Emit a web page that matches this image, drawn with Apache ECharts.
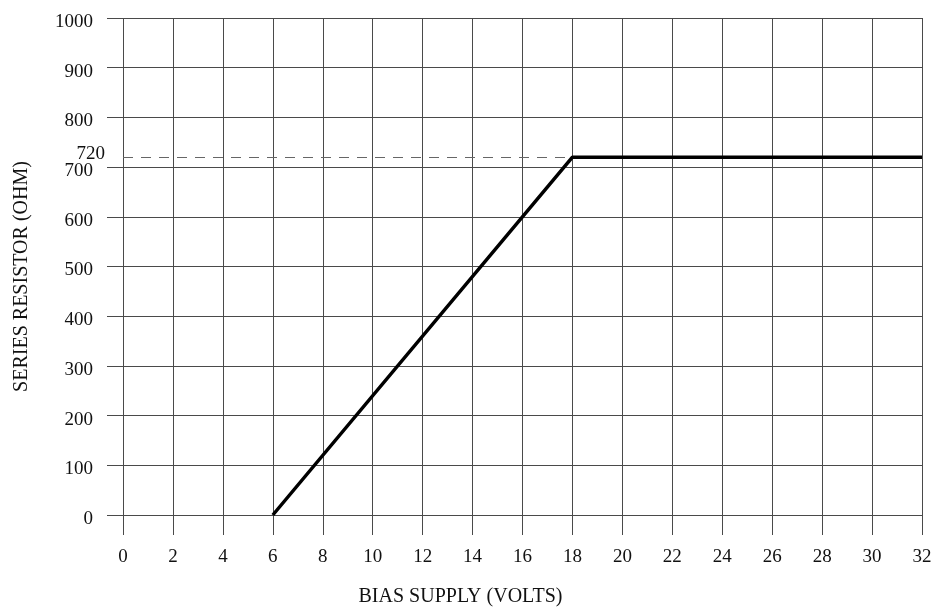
<!DOCTYPE html>
<html lang="en" style="height: 100%">
  <head>
    <meta charset="utf-8" />
  </head>
  <body style="height: 100%; margin: 0; background: #fff">
    <div id="container" style="width: 932px; height: 610px"></div>

    <script
      type="text/javascript"
      src="https://cdn.jsdelivr.net/npm/echarts@6/dist/echarts.min.js"
    ></script>

    <script type="text/javascript">
      // bias supply (volts) vs series resistor (ohm)
      var biasVolts = [6, 18, 32];
      var resistorOhm = [0, 720, 720];
      var refLevel = 720;
      var refFromX = 0;

      var xTitle = "BIAS SUPPLY (VOLTS)";
      var yTitle = "SERIES RESISTOR (OHM)";

      var font = "Liberation Serif";
      var ink = "#111";
      var gridColor = "#4a4a4a";

      var dom = document.getElementById("container");
      var myChart = echarts.init(dom, null, { renderer: "canvas" });

      var option = {
        animation: false,
        grid: {
          left: 123,
          right: 10,
          top: 18,
          bottom: 95,
          containLabel: false,
          outerBoundsMode: "none",
        },
        xAxis: {
          type: "value",
          min: 0,
          max: 32,
          interval: 2,
          name: xTitle,
          nameLocation: "middle",
          nameGap: 72,
          nameTextStyle: {
            fontFamily: font,
            fontSize: 20,
            color: ink,
            padding: [0, 124, 0, 0],
          },
          axisLine: { show: false },
          axisTick: { show: true, length: 20, lineStyle: { color: gridColor, width: 1 } },
          axisLabel: { margin: 33, fontFamily: font, fontSize: 19, color: ink },
          splitLine: { show: true, lineStyle: { color: gridColor, width: 1 } },
        },
        yAxis: {
          type: "value",
          min: 0,
          max: 1000,
          interval: 100,
          name: yTitle,
          nameLocation: "middle",
          nameGap: 91,
          nameTextStyle: {
            fontFamily: font,
            fontSize: 20,
            color: ink,
            padding: [0, 20, 0, 0],
          },
          axisLine: { show: false },
          axisTick: { show: true, length: 16, lineStyle: { color: gridColor, width: 1 } },
          axisLabel: {
            margin: 30,
            color: ink,
            formatter: function (v) {
              return "{t|" + v + "}";
            },
            rich: {
              t: {
                fontFamily: font,
                fontSize: 19,
                color: ink,
                padding: [8, 0, 0, 0],
              },
            },
          },
          splitLine: { show: true, lineStyle: { color: gridColor, width: 1 } },
        },
        series: [
          {
            type: "line",
            data: biasVolts.map(function (v, i) {
              return [v, resistorOhm[i]];
            }),
            symbol: "none",
            lineStyle: { color: "#000", width: 3.5 },
            markLine: {
              silent: true,
              symbol: "none",
              lineStyle: { color: "#666", width: 1, type: [10, 8] },
              label: {
                show: true,
                position: "start",
                distance: 18,
                offset: [0, -3],
                formatter: String(refLevel),
                fontFamily: font,
                fontSize: 19,
                color: ink,
              },
              data: [
                [
                  { coord: [refFromX, refLevel] },
                  { coord: [biasVolts[1], refLevel] },
                ],
              ],
            },
          },
        ],
      };

      myChart.setOption(option);
    </script>
  </body>
</html>
